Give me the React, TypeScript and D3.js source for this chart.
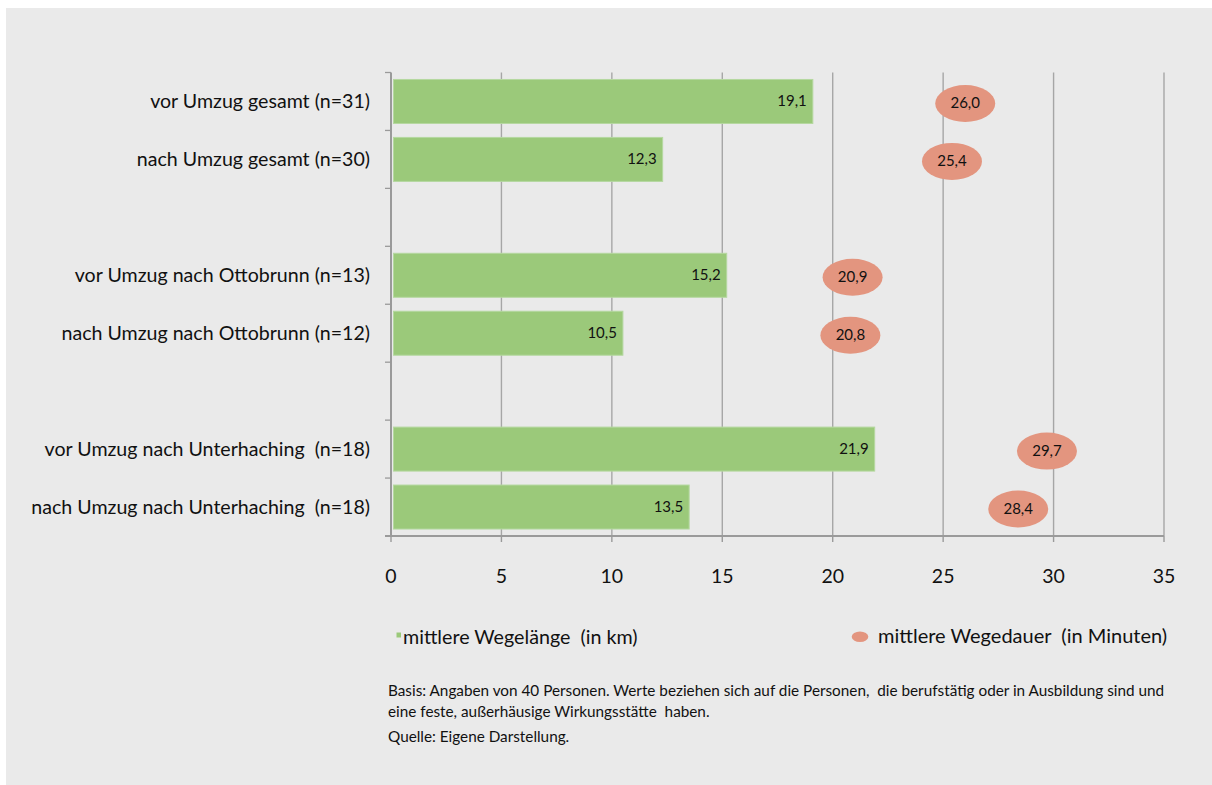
import React from "react";
import * as d3 from "d3";

const categories = [
  "vor Umzug gesamt (n=31)",
  "nach Umzug gesamt (n=30)",
  "",
  "vor Umzug nach Ottobrunn (n=13)",
  "nach Umzug nach Ottobrunn (n=12)",
  "",
  "vor Umzug nach Unterhaching  (n=18)",
  "nach Umzug nach Unterhaching  (n=18)",
];
const wegelaenge: (number | null)[] = [19.1, 12.3, null, 15.2, 10.5, null, 21.9, 13.5];
const wegedauer: (number | null)[] = [26.0, 25.4, null, 20.9, 20.8, null, 29.7, 28.4];
const xTicks = [0, 5, 10, 15, 20, 25, 30, 35];
const legendLabels = ["mittlere Wegelänge  (in km)", "mittlere Wegedauer  (in Minuten)"];
const notes = [
  "Basis: Angaben von 40 Personen. Werte beziehen sich auf die Personen,  die berufstätig oder in Ausbildung sind und",
  "eine feste, außerhäusige Wirkungsstätte  haben.",
  "Quelle: Eigene Darstellung.",
];

const FONT = "Lato, 'Open Sans', sans-serif";
const fmt = (v: number) => v.toFixed(1).replace(".", ",");

export default function App() {
  const x = d3.scaleLinear().domain([0, 35]).range([391, 1164]);
  const y = d3
    .scaleBand<number>()
    .domain(categories.map((_, i) => i))
    .range([72.5, 536])
    .paddingInner(0)
    .paddingOuter(0);
  const slot = y.bandwidth();
  const barH = 44;
  const barOff = (slot - barH) / 2;
  const green = "#9BC97A";
  const salmon = "#E3957F";
  const gridColor = "#A6A6A6";
  const axisColor = "#9A9A9A";
  const pre = { whiteSpace: "pre" as const };

  return (
    <svg
      width={1212}
      height={785}
      style={{ position: "absolute", left: 0, top: 0 }}
      fontFamily={FONT}
    >
      <rect x={0} y={0} width={1212} height={785} fill="#ffffff" />
      <rect x={6} y={8} width={1206} height={777} fill="#EAEAEA" />

      {/* gridlines */}
      {xTicks.filter((t) => t > 0).map((t) => (
        <line key={"g" + t} x1={x(t)} x2={x(t)} y1={72.5} y2={536} stroke={gridColor} strokeWidth={1.4} />
      ))}

      {/* bars */}
      {wegelaenge.map((v, i) =>
        v == null ? null : (
          <g key={"b" + i}>
            <rect
              x={x(0) + 2.5}
              y={(y(i) as number) + barOff}
              width={x(v) - x(0) - 2.5}
              height={barH}
              fill={green}
              stroke="#B5D8A0"
              strokeWidth={1}
            />
            <text
              x={x(v) - 6}
              y={(y(i) as number) + slot / 2 + 5}
              textAnchor="end"
              fontSize={15}
              fill="#111"
            >
              {fmt(v)}
            </text>
          </g>
        )
      )}

      {/* ellipses */}
      {wegedauer.map((v, i) =>
        v == null ? null : (
          <g key={"e" + i}>
            <ellipse cx={x(v)} cy={(y(i) as number) + slot / 2 + 2} rx={30} ry={18.5} fill={salmon} />
            <text
              x={x(v)}
              y={(y(i) as number) + slot / 2 + 7}
              textAnchor="middle"
              fontSize={15}
              fill="#111"
            >
              {fmt(v)}
            </text>
          </g>
        )
      )}

      {/* y axis */}
      <line x1={x(0)} x2={x(0)} y1={72.5} y2={536} stroke={axisColor} strokeWidth={2} />
      {categories.map((_, i) => (
        <line key={"yt" + i} x1={385} x2={x(0)} y1={y(i) as number} y2={y(i) as number} stroke={axisColor} strokeWidth={1.3} />
      ))}
      {categories.map((c, i) =>
        c ? (
          <text key={"yl" + i} x={370} y={(y(i) as number) + slot / 2 + 7} textAnchor="end" fontSize={19.6} fill="#111" style={pre}>
            {c}
          </text>
        ) : null
      )}

      {/* x axis */}
      <line x1={385} x2={x(35)} y1={536} y2={536} stroke={axisColor} strokeWidth={2} />
      {xTicks.map((t) => (
        <g key={"xt" + t}>
          <line x1={x(t)} x2={x(t)} y1={536} y2={542} stroke={axisColor} strokeWidth={1.4} />
          <text x={x(t)} y={583} textAnchor="middle" fontSize={19.5} fill="#111">
            {t}
          </text>
        </g>
      ))}

      {/* legend */}
      <rect x={396.5} y={632.5} width={4.5} height={5} fill={green} />
      <text x={403} y={644} fontSize={19.7} fill="#111" style={pre}>
        {legendLabels[0]}
      </text>
      <ellipse cx={860} cy={636.7} rx={8.3} ry={5.2} fill={salmon} />
      <text x={878} y={643} fontSize={20} fill="#111" style={pre}>
        {legendLabels[1]}
      </text>

      {/* notes */}
      <text x={388} y={696} fontSize={15.3} fill="#111" style={pre}>{notes[0]}</text>
      <text x={388} y={717} fontSize={15.3} fill="#111" style={pre}>{notes[1]}</text>
      <text x={388} y={742} fontSize={15.3} fill="#111" style={pre}>{notes[2]}</text>
    </svg>
  );
}
